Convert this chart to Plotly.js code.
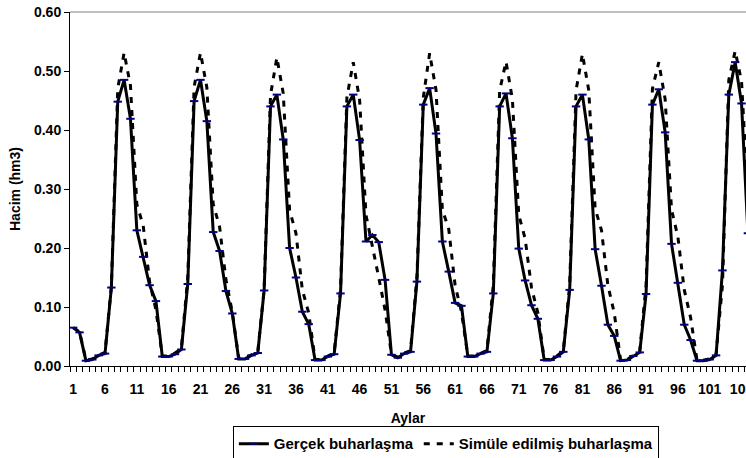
<!DOCTYPE html>
<html>
<head>
<meta charset="utf-8">
<script src="https://cdn.plot.ly/plotly-3.0.1.min.js"></script>
<style>
html,body{margin:0;padding:0;background:#fff;overflow:hidden;}
#chart{width:746px;height:458px;}
</style>
</head>
<body>
<div id="chart"></div>
<script>
// Months (Aylar)
const months = Array.from({length: 107}, (_, k) => k + 1);

// Gerçek buharlaşma (hm3)
const gercek = [
  0.065, 0.057, 0.009, 0.011, 0.018, 0.021, 0.133, 0.448, 0.485, 0.419,
  0.230, 0.185, 0.137, 0.110, 0.016, 0.016, 0.020, 0.028, 0.139, 0.449,
  0.485, 0.415, 0.227, 0.195, 0.127, 0.089, 0.012, 0.012, 0.018, 0.022,
  0.128, 0.440, 0.460, 0.384, 0.200, 0.150, 0.092, 0.071, 0.010, 0.010,
  0.016, 0.020, 0.123, 0.440, 0.460, 0.383, 0.211, 0.222, 0.210, 0.146,
  0.019, 0.014, 0.021, 0.024, 0.143, 0.443, 0.471, 0.394, 0.211, 0.160,
  0.107, 0.102, 0.016, 0.016, 0.021, 0.024, 0.123, 0.440, 0.462, 0.386,
  0.199, 0.145, 0.103, 0.080, 0.010, 0.010, 0.016, 0.024, 0.129, 0.440,
  0.460, 0.384, 0.198, 0.136, 0.070, 0.051, 0.009, 0.010, 0.017, 0.023,
  0.122, 0.443, 0.469, 0.396, 0.207, 0.141, 0.070, 0.044, 0.009, 0.009,
  0.011, 0.018, 0.162, 0.460, 0.515, 0.445, 0.225
];

// Simüle edilmiş buharlaşma (hm3)
const simule = [
  0.065, 0.058, 0.010, 0.012, 0.018, 0.023, 0.135, 0.470, 0.531, 0.475,
  0.274, 0.238, 0.143, 0.095, 0.017, 0.017, 0.022, 0.030, 0.150, 0.473,
  0.531, 0.472, 0.274, 0.236, 0.146, 0.091, 0.013, 0.013, 0.019, 0.024,
  0.130, 0.459, 0.523, 0.462, 0.264, 0.225, 0.129, 0.090, 0.011, 0.011,
  0.017, 0.022, 0.130, 0.455, 0.515, 0.451, 0.256, 0.205, 0.150, 0.095,
  0.020, 0.015, 0.022, 0.026, 0.150, 0.455, 0.530, 0.468, 0.265, 0.232,
  0.137, 0.092, 0.017, 0.017, 0.022, 0.026, 0.137, 0.467, 0.516, 0.452,
  0.256, 0.216, 0.133, 0.090, 0.011, 0.011, 0.017, 0.026, 0.137, 0.467,
  0.529, 0.467, 0.267, 0.230, 0.137, 0.090, 0.010, 0.011, 0.018, 0.025,
  0.137, 0.470, 0.515, 0.452, 0.265, 0.219, 0.129, 0.082, 0.010, 0.010,
  0.012, 0.020, 0.137, 0.485, 0.534, 0.482, 0.285
];

const xTickVals = [1, 6, 11, 16, 21, 26, 31, 36, 41, 46, 51, 56, 61, 66, 71, 76, 81, 86, 91, 96, 101, 106];
const xTickText = xTickVals.map(String);
const yTickVals = [0, 0.1, 0.2, 0.3, 0.4, 0.5, 0.6];

const FONT = 'Liberation Sans, Arial, sans-serif';

const traces = [
  {
    x: months, y: simule, name: 'Simüle edilmiş buharlaşma',
    type: 'scatter', mode: 'lines',
    line: {color: '#000000', width: 3, dash: '6px,7px'},
    legendrank: 2
  },
  {
    x: months, y: gercek, name: 'Gerçek buharlaşma',
    type: 'scatter', mode: 'lines+markers',
    line: {color: '#000000', width: 3},
    marker: {symbol: 'line-ew', size: 6, color: '#000080', line: {color: '#000080', width: 2}},
    legendrank: 1
  }
];

const layout = {
  width: 746, height: 458,
  margin: {l: 70, r: 0, t: 12, b: 92, autoexpand: false},
  paper_bgcolor: '#ffffff', plot_bgcolor: '#ffffff',
  font: {family: FONT, size: 14, color: '#000000'},
  showlegend: true,
  legend: {
    orientation: 'h', x: 0.556, xanchor: 'center', y: -0.22, yanchor: 'middle',
    bordercolor: '#000000', borderwidth: 1, bgcolor: '#ffffff',
    font: {family: FONT, size: 15, color: '#000000', weight: 'bold'},
    traceorder: 'normal'
  },
  xaxis: {
    range: [0.5, 106.7],
    tickmode: 'array', tickvals: xTickVals, ticktext: xTickText,
    ticks: '', showgrid: false, zeroline: false,
    showline: true, linecolor: '#000000', linewidth: 1,
    tickfont: {family: FONT, size: 14, weight: 'bold'},
    ticklabelstandoff: 10,
    ticklabeloverflow: 'allow',
    automargin: false,
    minor: {tick0: 0.5, dtick: 1, ticks: 'outside', ticklen: 5, tickcolor: '#000000', tickwidth: 1, showgrid: false},
    title: {text: 'Aylar', font: {family: FONT, size: 14, weight: 'bold'}, standoff: 17}
  },
  yaxis: {
    range: [0, 0.6],
    tickmode: 'array', tickvals: yTickVals, tickformat: '.2f',
    ticks: 'outside', ticklen: 5, tickcolor: '#000000', tickwidth: 1,
    showgrid: false, zeroline: false,
    showline: true, linecolor: '#000000', linewidth: 1,
    automargin: false,
    tickfont: {family: FONT, size: 14, weight: 'bold'},
    title: {text: 'Hacim (hm3)', font: {family: FONT, size: 14, weight: 'bold'}, standoff: 10}
  },
  shapes: [
    {type: 'line', xref: 'paper', yref: 'paper', x0: 0, x1: 1, y0: 1, y1: 1,
     line: {color: '#808080', width: 1}}
  ]
};

Plotly.newPlot('chart', traces, layout, {displayModeBar: false, staticPlot: true});
</script>
</body>
</html>
